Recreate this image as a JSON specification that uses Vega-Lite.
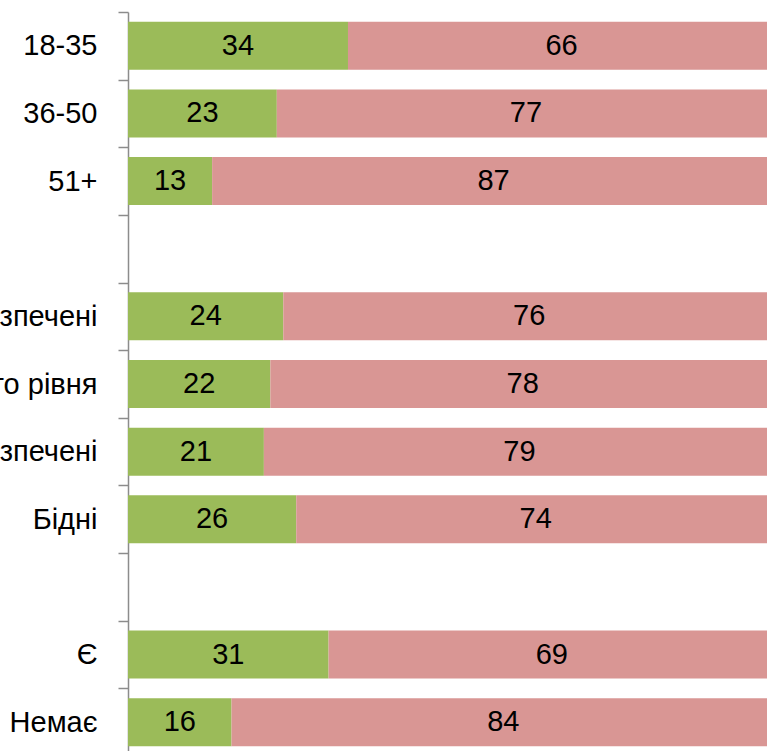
{
  "$schema": "https://vega.github.io/schema/vega-lite/v6.json",
  "autosize": {"type": "none"},
  "padding": {"left": 128, "top": 12, "right": 0, "bottom": 0},
  "width": 639,
  "height": 739,
  "background": "white",
  "config": {"view": {"stroke": null}},
  "data": {
    "values": [
      {"cat": "18-35", "seg": "a", "ord": 1, "value": 34},
      {"cat": "18-35", "seg": "b", "ord": 2, "value": 66},
      {"cat": "36-50", "seg": "a", "ord": 1, "value": 23},
      {"cat": "36-50", "seg": "b", "ord": 2, "value": 77},
      {"cat": "51+", "seg": "a", "ord": 1, "value": 13},
      {"cat": "51+", "seg": "b", "ord": 2, "value": 87},
      {"cat": "Добре забезпечені", "seg": "a", "ord": 1, "value": 24},
      {"cat": "Добре забезпечені", "seg": "b", "ord": 2, "value": 76},
      {"cat": "Середнього рівня", "seg": "a", "ord": 1, "value": 22},
      {"cat": "Середнього рівня", "seg": "b", "ord": 2, "value": 78},
      {"cat": "Малозабезпечені", "seg": "a", "ord": 1, "value": 21},
      {"cat": "Малозабезпечені", "seg": "b", "ord": 2, "value": 79},
      {"cat": "Бідні", "seg": "a", "ord": 1, "value": 26},
      {"cat": "Бідні", "seg": "b", "ord": 2, "value": 74},
      {"cat": "Є", "seg": "a", "ord": 1, "value": 31},
      {"cat": "Є", "seg": "b", "ord": 2, "value": 69},
      {"cat": "Немає", "seg": "a", "ord": 1, "value": 16},
      {"cat": "Немає", "seg": "b", "ord": 2, "value": 84}
    ]
  },
  "transform": [
    {"stack": "value", "groupby": ["cat"], "sort": [{"field": "ord"}], "as": ["v0", "v1"]},
    {"calculate": "(datum.v0 + datum.v1) / 2", "as": "mid"}
  ],
  "encoding": {
    "y": {
      "field": "cat",
      "type": "nominal",
      "sort": null,
      "title": null,
      "scale": {
        "domain": ["18-35", "36-50", "51+", " ", "Добре забезпечені", "Середнього рівня", "Малозабезпечені", "Бідні", "  ", "Є", "Немає"],
        "paddingInner": 0,
        "paddingOuter": 0,
        "range": [0, 744]
      },
      "axis": {
        "domainColor": "#8c8c8c",
        "domainWidth": 1.5,
        "tickColor": "#8c8c8c",
        "tickWidth": 1.5,
        "tickSize": 10,
        "tickBand": "extent",
        "labelFont": "Liberation Sans",
        "labelFontSize": 29,
        "labelColor": "black",
        "labelPadding": 21,
        "labelLimit": 0,
        "grid": false
      }
    }
  },
  "layer": [
    {
      "mark": {"type": "bar", "height": {"band": 0.71}, "clip": true},
      "encoding": {
        "x": {"field": "v0", "type": "quantitative", "axis": null, "scale": {"domain": [0, 98.76], "nice": false, "zero": true, "clamp": true}},
        "x2": {"field": "v1"},
        "color": {"field": "seg", "type": "nominal", "legend": null, "scale": {"domain": ["a", "b"], "range": ["#9BBB59", "#D99694"]}}
      }
    },
    {
      "mark": {"type": "text", "font": "Liberation Sans", "fontSize": 29, "color": "black", "baseline": "middle", "align": "center"},
      "encoding": {
        "x": {"field": "mid", "type": "quantitative"},
        "text": {"field": "value", "type": "quantitative"}
      }
    }
  ]
}
